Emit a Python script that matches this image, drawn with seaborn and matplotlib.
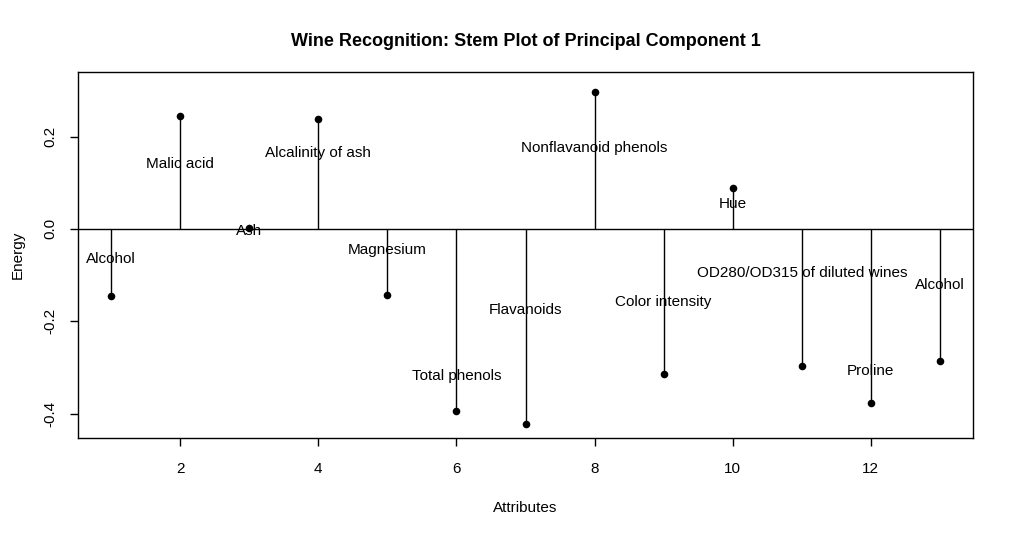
import matplotlib
matplotlib.use("Agg")
import matplotlib.pyplot as plt
import seaborn as sns
import numpy as np
import pandas as pd

# Data
attributes = ["Alcohol", "Malic acid", "Ash", "Alcalinity of ash", "Magnesium",
              "Total phenols", "Flavanoids", "Nonflavanoid phenols",
              "Color intensity", "Hue", "OD280/OD315 of diluted wines",
              "Proline", "Alcohol"]
index = list(range(1, 14))
energy = [-0.145, 0.245, 0.002, 0.238, -0.143, -0.394, -0.423,
          0.297, -0.314, 0.089, -0.297, -0.377, -0.286]
# where each name was written (y in data units)
label_y = [-0.061, 0.143, -0.002, 0.167, -0.043, -0.316, -0.173,
           0.178, -0.156, 0.058, -0.093, -0.305, -0.119]

df = pd.DataFrame({"Attributes": index, "Energy": energy, "name": attributes,
                   "label_y": label_y})

sns.set_style("white")
plt.rcParams['font.family'] = ['Liberation Sans', 'DejaVu Sans']
plt.rcParams['text.color'] = 'black'
plt.rcParams['axes.labelcolor'] = 'black'
plt.rcParams['xtick.color'] = 'black'
plt.rcParams['ytick.color'] = 'black'

fig = plt.figure(figsize=(10.14, 5.36), dpi=100)
ax = fig.add_axes([0.0769, 0.1828, 0.8827, 0.6829])

ax.axhline(0, color="black", lw=1)
ax.vlines(df["Attributes"], 0, df["Energy"], color="black", lw=1)
sns.scatterplot(data=df, x="Attributes", y="Energy", color="black", s=30,
                edgecolor="black", linewidth=0, ax=ax, zorder=3)

for _, r in df.iterrows():
    ax.text(r["Attributes"], r["label_y"], r["name"], ha="center",
            va="center_baseline", fontsize=11, color="black")

ax.set_xlim(0.52, 13.48)
ax.set_ylim(-0.453, 0.340)
ax.set_xticks([2, 4, 6, 8, 10, 12])
ax.set_yticks([-0.4, -0.2, 0.0, 0.2])
ax.set_yticklabels(["-0.4", "-0.2", "0.0", "0.2"], rotation=90, va="center")
ax.tick_params(axis="x", direction="out", length=6, width=1, labelsize=11,
               bottom=True, pad=11)
ax.tick_params(axis="y", direction="out", length=6, width=1, labelsize=11,
               left=True, pad=9)
for s in ax.spines.values():
    s.set_color("black")
    s.set_linewidth(1)

ax.set_xlabel("Attributes", fontsize=11, labelpad=18)
ax.set_ylabel("Energy", fontsize=11, labelpad=13)
ax.set_title("Wine Recognition: Stem Plot of Principal Component 1",
             fontsize=13, fontweight="bold", pad=19)

fig.savefig("out.png", dpi=100)
